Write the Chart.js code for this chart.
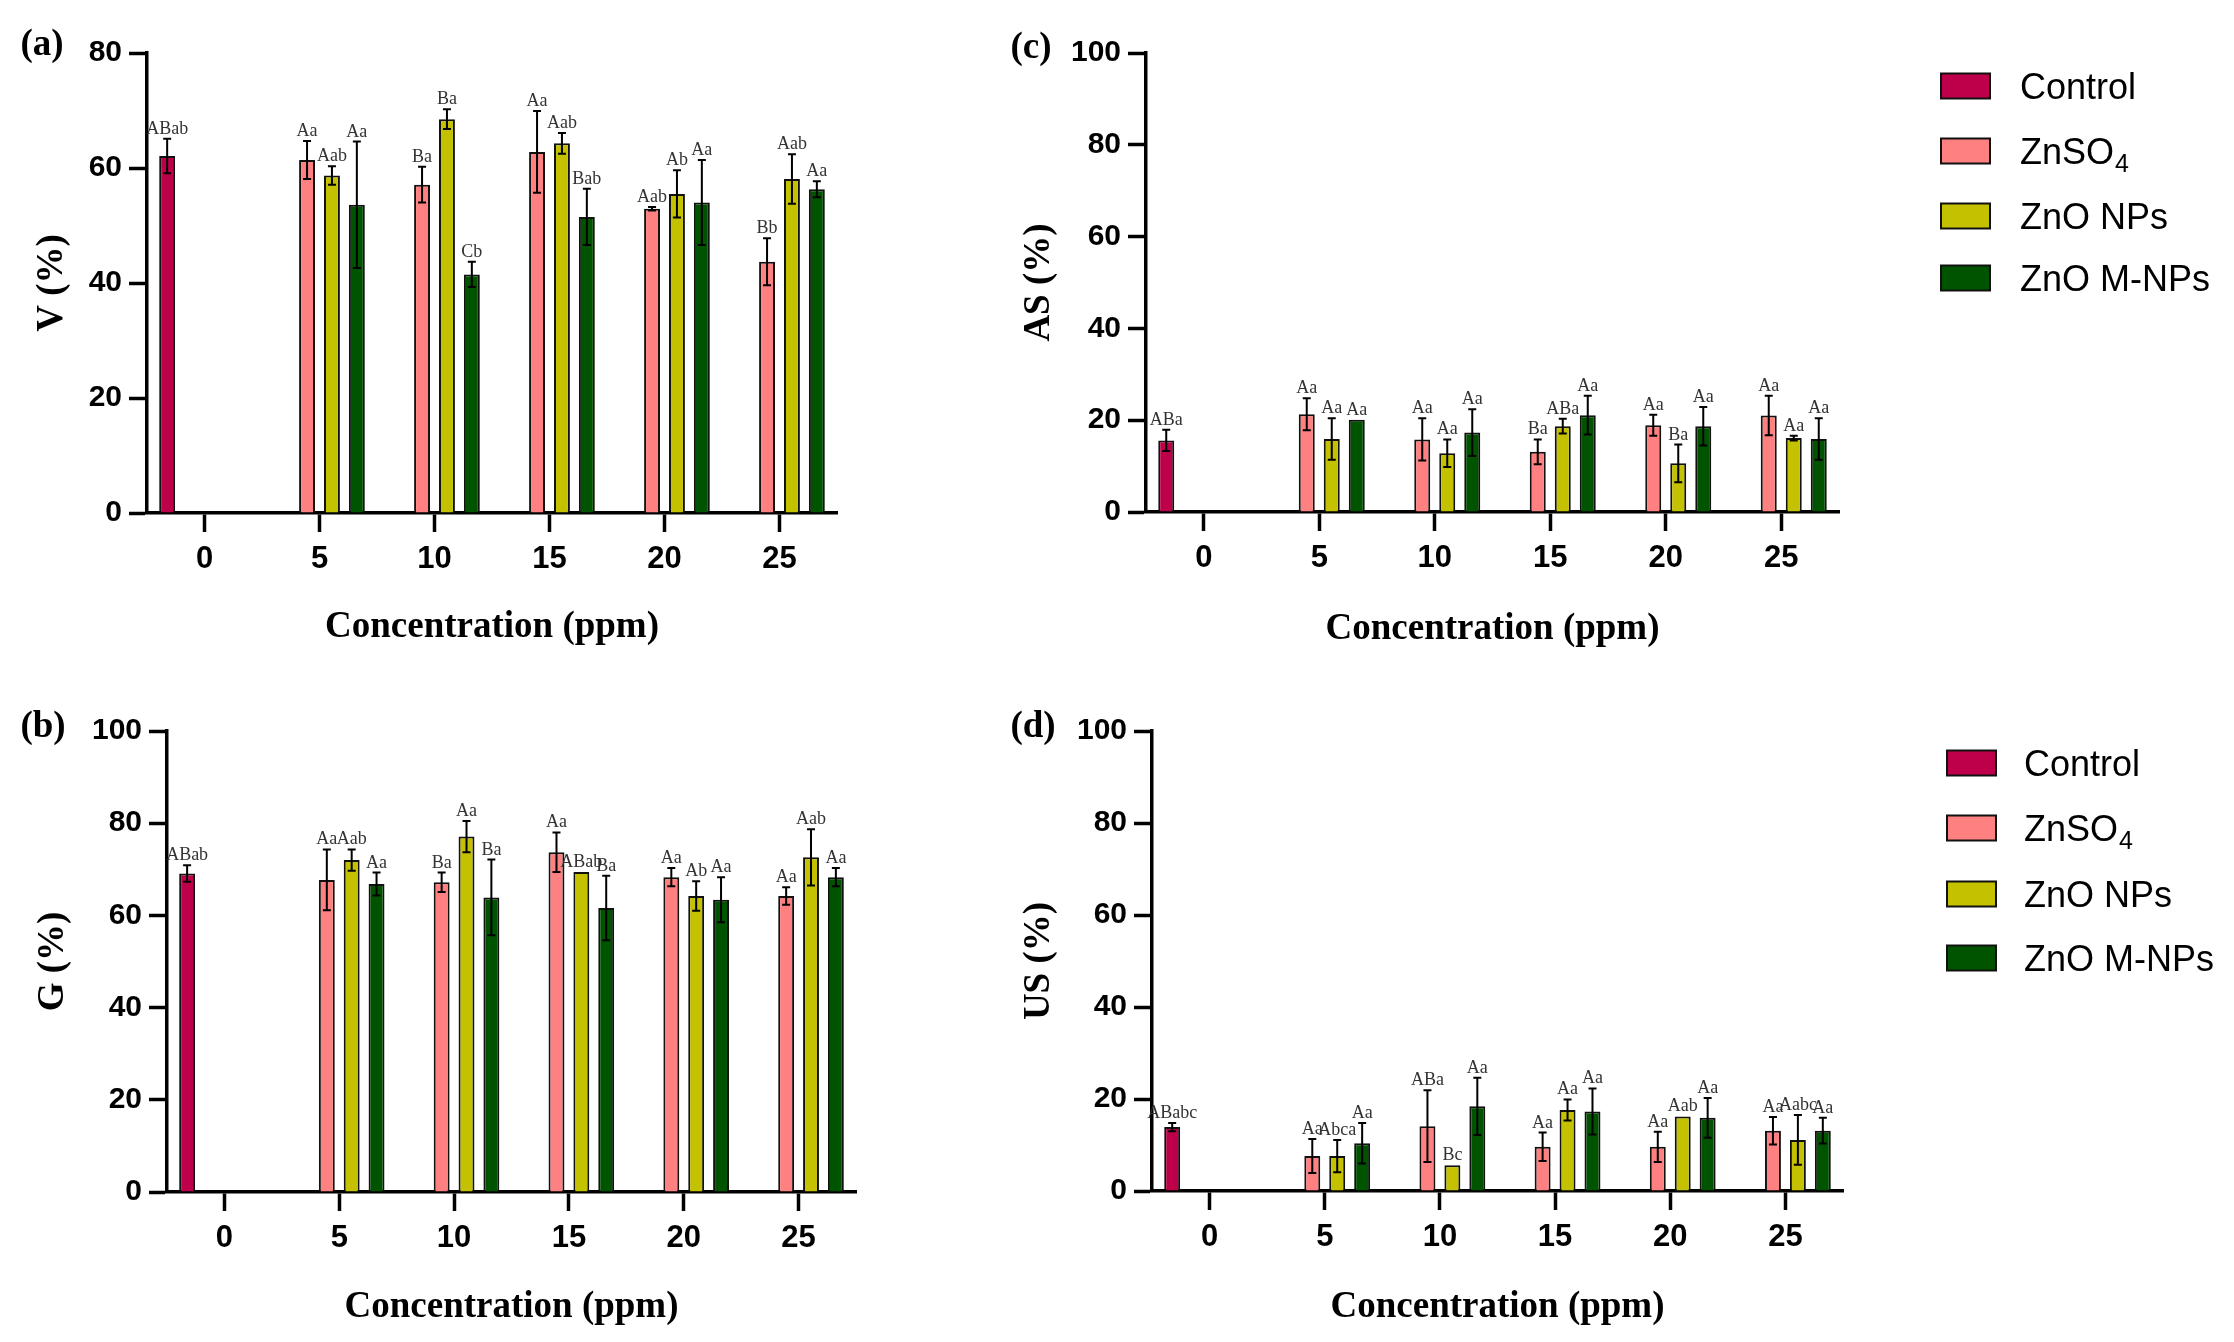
<!DOCTYPE html>
<html><head><meta charset="utf-8">
<script src="https://cdn.jsdelivr.net/npm/chart.js@4/dist/chart.umd.min.js"></script>
<style>
html,body{margin:0;padding:0;background:#fff;width:2234px;height:1342px;overflow:hidden;}
canvas{position:absolute;}
</style></head><body>
<canvas id="pa"></canvas>
<canvas id="pb"></canvas>
<canvas id="pc"></canvas>
<canvas id="pd"></canvas>
<script>
// ---------- shared ----------
const categories = ['0','5','10','15','20','25'];
const seriesNames = ['Control','ZnSO₄','ZnO NPs','ZnO M-NPs'];
const seriesColors = ['#BE004B','#FF8080','#C4C200','#005400'];
const xTitle = 'Concentration (ppm)';

// ---------- (a) V (%) ----------
const yTicksA = [0,20,40,60,80];
const V_Control  = [62.1,null,null,null,null,null];
const V_ZnSO4    = [null,61.4,57.1,62.8,52.9,43.7];
const V_ZnONPs   = [null,58.7,68.5,64.3,55.5,58.1];
const V_ZnOMNPs  = [null,53.6,41.5,51.5,54.0,56.3];
const V_Control_err = [3.0,null,null,null,null,null];
const V_ZnSO4_err   = [null,3.3,3.1,7.1,0.3,4.1];
const V_ZnONPs_err  = [null,1.6,1.7,1.8,4.1,4.3];
const V_ZnOMNPs_err = [null,11.0,2.2,4.9,7.4,1.4];
const V_Control_sig = ['ABab','','','','',''];
const V_ZnSO4_sig   = ['','Aa','Ba','Aa','Aab','Bb'];
const V_ZnONPs_sig  = ['','Aab','Ba','Aab','Ab','Aab'];
const V_ZnOMNPs_sig = ['','Aa','Cb','Bab','Aa','Aa'];

// ---------- (b) G (%) ----------
const yTicksB = [0,20,40,60,80,100];
const G_Control  = [69.1,null,null,null,null,null];
const G_ZnSO4    = [null,67.7,67.2,73.7,68.3,64.2];
const G_ZnONPs   = [null,72.0,77.1,69.4,64.2,72.6];
const G_ZnOMNPs  = [null,66.8,63.9,61.6,63.4,68.3];
const G_Control_err = [1.8,null,null,null,null,null];
const G_ZnSO4_err   = [null,6.6,2.1,4.3,2.0,1.9];
const G_ZnONPs_err  = [null,2.3,3.4,0,3.2,6.1];
const G_ZnOMNPs_err = [null,2.5,8.2,7.0,4.9,2.0];
const G_Control_sig = ['ABab','','','','',''];
const G_ZnSO4_sig   = ['','Aa','Ba','Aa','Aa','Aa'];
const G_ZnONPs_sig  = ['','Aab','Aa','ABab','Ab','Aab'];
const G_ZnOMNPs_sig = ['','Aa','Ba','Ba','Aa','Aa'];

// ---------- (c) AS (%) ----------
const yTicksC = [0,20,40,60,80,100];
const AS_Control  = [15.6,null,null,null,null,null];
const AS_ZnSO4    = [null,21.3,15.8,13.1,18.9,21.0];
const AS_ZnONPs   = [null,15.9,12.8,18.7,10.6,16.1];
const AS_ZnOMNPs  = [null,20.1,17.3,21.1,18.7,15.9];
const AS_Control_err = [2.3,null,null,null,null,null];
const AS_ZnSO4_err   = [null,3.5,4.6,2.7,2.3,4.3];
const AS_ZnONPs_err  = [null,4.5,3.0,1.6,4.1,0.5];
const AS_ZnOMNPs_err = [null,0,5.1,4.2,4.2,4.5];
const AS_Control_sig = ['ABa','','','','',''];
const AS_ZnSO4_sig   = ['','Aa','Aa','Ba','Aa','Aa'];
const AS_ZnONPs_sig  = ['','Aa','Aa','ABa','Ba','Aa'];
const AS_ZnOMNPs_sig = ['','Aa','Aa','Aa','Aa','Aa'];

// ---------- (d) US (%) ----------
const yTicksD = [0,20,40,60,80,100];
const US_Control  = [13.9,null,null,null,null,null];
const US_ZnSO4    = [null,7.6,14.1,9.6,9.6,13.1];
const US_ZnONPs   = [null,7.6,5.6,17.6,16.2,11.1];
const US_ZnOMNPs  = [null,10.4,18.4,17.3,15.9,13.1];
const US_Control_err = [0.9,null,null,null,null,null];
const US_ZnSO4_err   = [null,3.7,7.8,3.1,3.3,3.0];
const US_ZnONPs_err  = [null,3.5,0,2.3,0,5.4];
const US_ZnOMNPs_err = [null,4.4,6.2,5.0,4.3,2.8];
const US_Control_sig = ['ABabc','','','','',''];
const US_ZnSO4_sig   = ['','Aa','ABa','Aa','Aa','Aa'];
const US_ZnONPs_sig  = ['','Abca','Bc','Aa','Aab','Aabc'];
const US_ZnOMNPs_sig = ['','Aa','Aa','Aa','Aa','Aa'];

// ---------- decoration plugin ----------
const decor = {
  id: 'decor',
  afterDatasetsDraw(chart, args, opts) {
    const ctx = chart.ctx, ys = chart.scales.y;
    ctx.save();
    chart.data.datasets.forEach((ds, i) => {
      const meta = chart.getDatasetMeta(i);
      ds.data.forEach((v, j) => {
        if (v === null || v === undefined) return;
        const bar = meta.data[j];
        const x = bar.x;
        const e = ds.err[j] || 0;
        let topY = bar.y;
        if (e > 0) {
          const y1 = ys.getPixelForValue(v + e), y2 = ys.getPixelForValue(v - e);
          ctx.strokeStyle = '#000'; ctx.lineWidth = 2;
          ctx.beginPath();
          ctx.moveTo(x, y1); ctx.lineTo(x, y2);
          ctx.moveTo(x - 4, y1); ctx.lineTo(x + 4, y1);
          ctx.moveTo(x - 4, y2); ctx.lineTo(x + 4, y2);
          ctx.stroke();
          topY = y1;
        }
        const s = ds.sig[j];
        if (s) {
          ctx.fillStyle = '#333';
          ctx.font = '18px "Liberation Serif", serif';
          ctx.textAlign = 'center'; ctx.textBaseline = 'alphabetic';
          ctx.fillText(s, x, topY - 5);
        }
      });
    });
    ctx.restore();
  },
  afterDraw(chart, args, opts) {
    const ctx = chart.ctx;
    ctx.save();
    ctx.fillStyle = '#000';
    ctx.font = 'bold 37px "Liberation Serif", serif';
    ctx.textAlign = 'center'; ctx.textBaseline = 'middle';
    ctx.fillText(opts.label, opts.labelX, opts.labelY);
    if (opts.legend) {
      const L = opts.legend;
      chart.data.datasets.forEach((ds, i) => {
        const cy = L.ys[i];
        ctx.fillStyle = ds.backgroundColor;
        ctx.fillRect(L.x, cy - 12.5, 49, 25);
        ctx.strokeStyle = '#111'; ctx.lineWidth = 2;
        ctx.strokeRect(L.x, cy - 12.5, 49, 25);
        ctx.fillStyle = '#000';
        ctx.textAlign = 'left'; ctx.textBaseline = 'alphabetic';
        const name = ds.label;
        const k = name.indexOf('₄');
        ctx.font = '36px "Liberation Sans", Arial, sans-serif';
        const base = cy + 13;
        if (k >= 0) {
          const main = name.slice(0, k);
          ctx.fillText(main, L.tx, base);
          const w = ctx.measureText(main).width;
          ctx.font = '25px "Liberation Sans", Arial, sans-serif';
          ctx.fillText('4', L.tx + w + 1, base + 8);
        } else {
          ctx.fillText(name, L.tx, base);
        }
      });
    }
    ctx.restore();
  }
};

function makePanel(id, g, yTitle, yTicks, vals, errs, sigs, label, legend) {
  const cv = document.getElementById(id);
  cv.width = g.width; cv.height = g.height;
  cv.style.left = g.left + 'px'; cv.style.top = g.top + 'px';
  cv.style.width = g.width + 'px'; cv.style.height = g.height + 'px';
  const datasets = vals.map((d, i) => ({
    label: seriesNames[i],
    data: d,
    err: errs[i],
    sig: sigs[i],
    backgroundColor: seriesColors[i],
    borderColor: '#111',
    borderWidth: 2,
    categoryPercentage: 0.866,
    barPercentage: 0.64
  }));
  const axisFont = {family: '"Liberation Sans", Arial, sans-serif', weight: 'bold'};
  const titleFont = {family: '"Liberation Serif", "Times New Roman", serif', weight: 'bold', size: 37};
  return new Chart(cv, {
    type: 'bar',
    data: {labels: categories, datasets},
    plugins: [decor],
    options: {
      responsive: false, animation: false, devicePixelRatio: 1,
      layout: {padding: {top: g.caTop, right: g.width - g.caRight, left: 0, bottom: 0}},
      plugins: {
        legend: {display: false}, tooltip: {enabled: false},
        decor: {label, labelX: g.labelX, labelY: g.labelY, legend}
      },
      scales: {
        x: {
          type: 'category', offset: true,
          grid: {display: true, offset: false, drawOnChartArea: false, drawTicks: true,
                 tickLength: 19, tickWidth: 3.5, tickColor: '#000'},
          border: {display: true, color: '#000', width: 3.5},
          ticks: {color: '#000', font: Object.assign({size: 31}, axisFont), padding: 8.5,
                  maxRotation: 0, autoSkip: false},
          title: {display: true, text: xTitle, color: '#000', font: titleFont,
                  padding: {top: 0, bottom: g.xTitlePad}},
          afterFit(s) { s.height = g.height - g.caBottom; }
        },
        y: {
          min: 0, max: yTicks[yTicks.length - 1],
          afterBuildTicks(s) { s.ticks = yTicks.map(v => ({value: v})); },
          grid: {display: true, drawOnChartArea: false, drawTicks: true,
                 tickLength: 18, tickWidth: 3.5, tickColor: '#000'},
          border: {display: true, color: '#000', width: 3.5},
          ticks: {color: '#000', font: Object.assign({size: 30}, axisFont), padding: 7},
          title: {display: true, text: yTitle, color: '#000', font: titleFont,
                  padding: {top: g.yTitlePad, bottom: 0}},
          afterFit(s) { s.width = g.caLeft; }
        }
      }
    }
  });
}

makePanel('pa',
  {left: 0, top: 0, width: 860, height: 660, caLeft: 147, caTop: 53, caRight: 837, caBottom: 513,
   yTitlePad: 30, xTitlePad: 10, labelX: 42, labelY: 45},
  'V (%)', yTicksA,
  [V_Control, V_ZnSO4, V_ZnONPs, V_ZnOMNPs],
  [V_Control_err, V_ZnSO4_err, V_ZnONPs_err, V_ZnOMNPs_err],
  [V_Control_sig, V_ZnSO4_sig, V_ZnONPs_sig, V_ZnOMNPs_sig],
  '(a)', null);

makePanel('pb',
  {left: 0, top: 680, width: 880, height: 662, caLeft: 167, caTop: 51, caRight: 856, caBottom: 512,
   yTitlePad: 31, xTitlePad: 12, labelX: 43, labelY: 47},
  'G (%)', yTicksB,
  [G_Control, G_ZnSO4, G_ZnONPs, G_ZnOMNPs],
  [G_Control_err, G_ZnSO4_err, G_ZnONPs_err, G_ZnOMNPs_err],
  [G_Control_sig, G_ZnSO4_sig, G_ZnONPs_sig, G_ZnOMNPs_sig],
  '(b)', null);

makePanel('pc',
  {left: 1000, top: 0, width: 1234, height: 660, caLeft: 146, caTop: 53, caRight: 839, caBottom: 512,
   yTitlePad: 17.5, xTitlePad: 8, labelX: 31, labelY: 48},
  'AS (%)', yTicksC,
  [AS_Control, AS_ZnSO4, AS_ZnONPs, AS_ZnOMNPs],
  [AS_Control_err, AS_ZnSO4_err, AS_ZnONPs_err, AS_ZnOMNPs_err],
  [AS_Control_sig, AS_ZnSO4_sig, AS_ZnONPs_sig, AS_ZnOMNPs_sig],
  '(c)', {x: 941, tx: 1020, ys: [86, 151, 216, 278]});

makePanel('pd',
  {left: 1000, top: 680, width: 1234, height: 662, caLeft: 152, caTop: 51, caRight: 843, caBottom: 511,
   yTitlePad: 17, xTitlePad: 12, labelX: 33, labelY: 47},
  'US (%)', yTicksD,
  [US_Control, US_ZnSO4, US_ZnONPs, US_ZnOMNPs],
  [US_Control_err, US_ZnSO4_err, US_ZnONPs_err, US_ZnOMNPs_err],
  [US_Control_sig, US_ZnSO4_sig, US_ZnONPs_sig, US_ZnOMNPs_sig],
  '(d)', {x: 947, tx: 1024, ys: [83, 148, 214, 278]});
</script>
</body></html>
